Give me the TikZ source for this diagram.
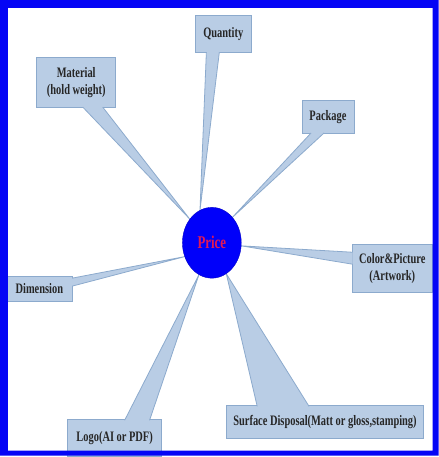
\documentclass[tikz,border=0pt]{standalone}
\usepackage{fontspec}
\setmainfont[FakeStretch=0.72]{Liberation Serif}
\usetikzlibrary{shapes.geometric, calc}

\definecolor{framebl}{RGB}{5,5,245}
\definecolor{pricebl}{RGB}{0,0,250}
\definecolor{pricered}{RGB}{225,25,85}
\definecolor{boxfill}{RGB}{185,205,229}
\definecolor{boxline}{RGB}{140,170,205}
\pgfdeclarelayer{front}
\pgfsetlayers{main,front}

\begin{document}
\begin{tikzpicture}[
    x=1pt, y=-1pt,
    item/.style={rectangle, align=center, inner sep=0pt, outer sep=0pt, fill=boxfill, draw=boxline, line width=0.8pt, text=black!85, font=\fontsize{14.5}{17}\selectfont\bfseries},
    pointer/.style={fill=boxfill, draw=boxline, line width=0.8pt, line join=round},
    hub/.style={ellipse, minimum width=59pt, minimum height=71pt, inner sep=0pt, fill=pricebl, draw=pricebl!80!black, text=pricered, font=\fontsize{18}{20}\selectfont\bfseries}
]

\fill[white] (0,0) rectangle (440,457);
\begin{pgfonlayer}{front}
\fill[framebl, even odd rule] (0,0) rectangle (440,457) (8,8) rectangle (434,452);
\node (price) [hub] at (212.5,243.5) {Price};
\end{pgfonlayer}

\node (qty) [item, minimum width=56pt, minimum height=38pt] at (224,34) {Quantity};
\node (mat) [item, minimum width=79pt, minimum height=50pt] at (76.5,83) {Material\\(hold weight)};
\node (pkg) [item, minimum width=52pt, minimum height=33pt] at (329,117.5) {Package};
\node (col) [item, minimum width=81pt, minimum height=48pt] at (393.5,269) {Color\&Picture\\(Artwork)};
\node (dim) [item, minimum width=67pt, minimum height=25pt] at (39.5,289.5) {Dimension};
\node (logo) [item, minimum width=94pt, minimum height=37pt] at (115,439.5) {Logo(AI or PDF)};
\node (surf) [item, minimum width=198pt, minimum height=33pt] at (326,423.5) {Surface Disposal(Matt or gloss,stamping)};

\filldraw[pointer] ($(qty.south west)+(11,-0.6)$) -- (price.110) -- ($(qty.south west)+(24,-0.6)$);
\filldraw[pointer] ($(mat.south west)+(46,-0.6)$) -- (price.133) -- ($(mat.south west)+(66,-0.6)$);
\filldraw[pointer] ($(pkg.south west)+(9,-0.6)$) -- (price.51) -- ($(pkg.south west)+(22,-0.6)$);
\filldraw[pointer] ($(col.north west)+(0.6,8)$) -- (price.354) -- ($(col.north west)+(0.6,20)$);
\filldraw[pointer] ($(dim.north east)+(-0.6,2)$) -- (price.207) -- ($(dim.north east)+(-0.6,10)$);
\filldraw[pointer] ($(logo.north west)+(57,0.6)$) -- (price.248) -- ($(logo.north west)+(82,0.6)$);
\filldraw[pointer] ($(surf.north west)+(31,0.6)$) -- (price.295) -- ($(surf.north west)+(83,0.6)$);

\end{tikzpicture}
\end{document}
